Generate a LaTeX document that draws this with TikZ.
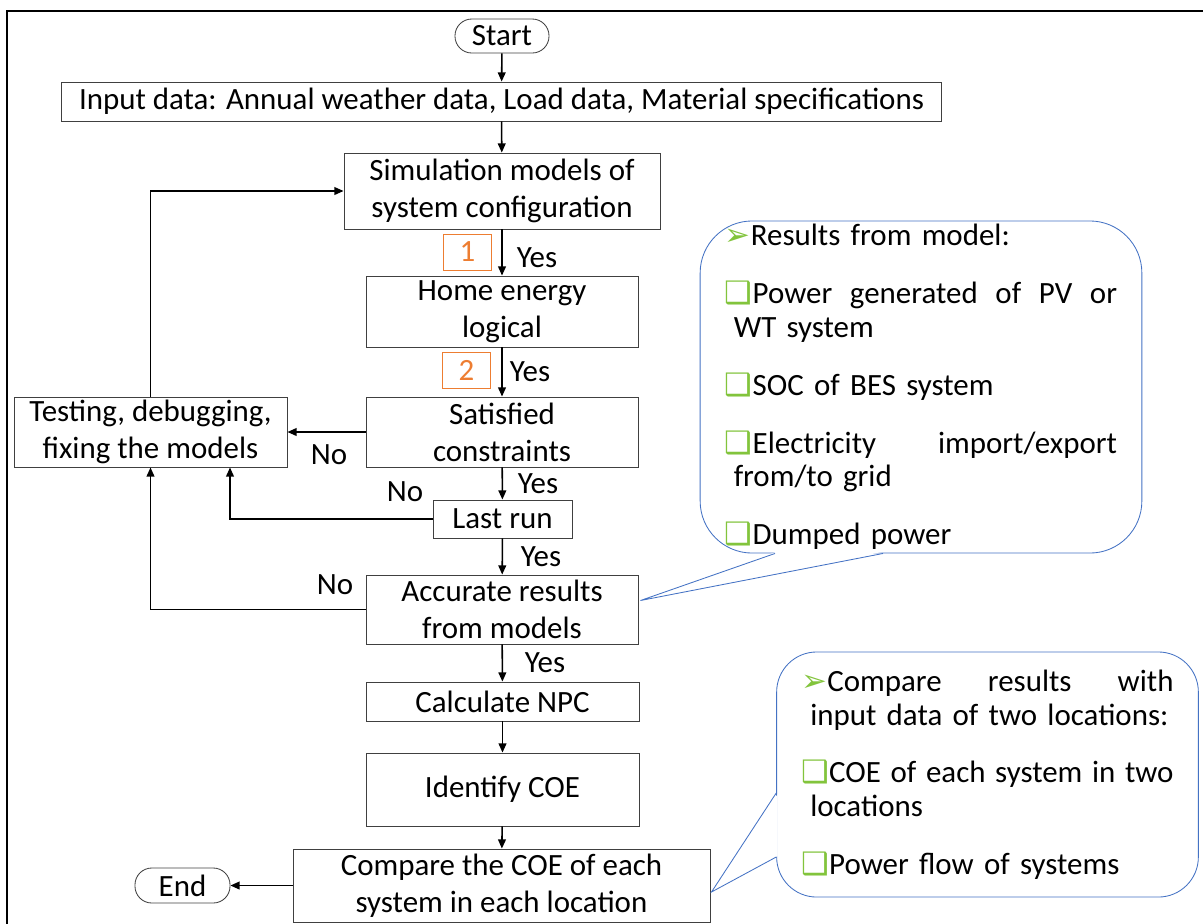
\documentclass[tikz,border=0pt]{standalone}
\usepackage{fontspec}
\setmainfont{Carlito}
\newfontfamily\symfont{DejaVu Sans}
\usepackage{xcolor}
\usetikzlibrary{arrows.meta,calc}
\definecolor{bord}{RGB}{64,64,64}
\definecolor{bleuc}{RGB}{68,114,196}
\definecolor{vertc}{RGB}{130,196,60}
\definecolor{orangec}{RGB}{237,125,49}
\newcommand{\fs}{\fontsize{22}{26.5}\selectfont}
\newcommand{\fsb}{\fontsize{22}{24}\selectfont}
\newcommand{\fle}{{\symfont\color{vertc}\char"27A2}}
\newcommand{\cas}{{\symfont\color{vertc}\char"2751}}
\newcommand{\ind}{\hspace*{0.22cm}}

\begin{document}
\begin{tikzpicture}[x=0.025cm, y=-0.025cm,
  bx/.style 2 args={rectangle, draw=bord, semithick, minimum width=#1, minimum height=#2,
                    align=center, inner sep=1pt, font=\fs},
  pill/.style={rectangle, rounded corners=0.42cm, draw=bord, semithick, font=\fs, inner sep=1pt},
  num/.style={rectangle, draw=orangec, thin, text=orangec, minimum width=1.2cm,
              minimum height=0.9cm, font=\fs},
  lab/.style={font=\fs, inner sep=0pt},
  bulle/.style 2 args={rectangle, draw=bleuc, semithick, fill=white, rounded corners=#2,
                       text width=#1, align=left, inner xsep=0.62cm, inner ysep=0pt, font=\fsb},
  fl/.style={-{Triangle[length=6.5pt, width=5.5pt]}, line width=1.1pt}]

\useasboundingbox (0,0) rectangle (1203,923);
\draw[line width=1.5pt] (1215,11) -- (7,11) -- (7,935);

% -- colonne principale --
\node[pill, minimum width=2.35cm, minimum height=0.85cm] (start) at (502,36) {Start};
\node[bx={21.975cm}{0.975cm}] (input) at (501.5,101.5)
  {Input data: Annual weather data, Load data, Material specifications};
\node[bx={7.9cm}{1.9cm}] (sim) at (502,191) {Simulation models of\\ system configuration};
\node[bx={6.8cm}{1.775cm}] (home) at (502,311.5) {Home energy\\ logical};
\node[bx={6.8cm}{1.75cm}] (sat) at (502,432) {Satisfied\\ constraints};
\node[bx={3.475cm}{0.95cm}] (last) at (502.5,519) {Last run};
\node[bx={6.8cm}{1.725cm}] (acc) at (502,609.5) {Accurate results\\ from models};
\node[bx={6.825cm}{0.975cm}] (npc) at (502.5,701.5) {Calculate NPC};
\node[bx={6.825cm}{1.825cm}] (coe) at (502.5,789.5) {Identify COE};
\node[bx={10.425cm}{1.825cm}] (cmp) at (501.5,885.5) {Compare the COE of each\\ system in each location};
\node[pill, minimum width=2.375cm, minimum height=0.875cm] (end) at (182.5,885.5) {End};
\node[bx={6.825cm}{1.75cm}] (test) at (150.5,432) {Testing, debugging,\\ fixing the models};

% -- reperes 1 et 2 --
\node[num] (one) at (467.5,252) {1};
\node[num] (two) at (466.5,370) {2};

% -- fleches --
\draw[fl] (start) -- (input);
\draw[fl] (input) -- (sim);
\draw[fl] (sim) -- (home);
\draw[fl] (home) -- (sat);
\draw[fl] (sat) -- (last);
\draw[fl] (last) -- (acc);
\draw[fl] (acc) -- (npc);
\draw[fl] (npc) -- (coe);
\draw[fl] (coe) -- (cmp);
\draw[fl] (cmp) -- (end);
\draw[fl] (sat.west) -- (test.east);
\draw[fl] (last.west) -| ($(test.south)+(79.5,0)$);
\draw[fl] (acc.west) -| (test.south);
\draw[fl] (test.north) |- (sim.west);

\node[lab] (y1) at (537,258) {Yes};
\node[lab] (y2) at (530,372) {Yes};
\node[lab] (y3) at (538,484) {Yes};
\node[lab] (y4) at (541,557) {Yes};
\node[lab] (y5) at (545,663) {Yes};
\node[lab] (n1) at (329,455) {No};
\node[lab] (n2) at (405,492) {No};
\node[lab] (n3) at (335,585) {No};

% -- bulles --
\node[bulle={9.8cm}{1.3cm}, minimum height=8.3cm] (res) at (921,387)
  {\fle Results from model:\\[0.6cm]
   \cas Power\hfill generated\hfill of\hfill PV\hfill or\\
   \ind WT system\\[0.6cm]
   \cas SOC of BES system\\[0.6cm]
   \cas Electricity\hfill import/export\\
   \ind from/to grid\\[0.6cm]
   \cas Dumped power};
\fill[white] ($(res.south)+(-145,-1.5)$) -- ($(acc.east)+(2,-9)$) -- ($(res.south)+(-39,-1.5)$) -- cycle;
\draw[bleuc, semithick] ($(res.south)+(-146,0)$) -- ($(acc.east)+(2,-9)$) -- ($(res.south)+(-38,0)$);

\node[bulle={9.3cm}{1cm}, minimum height=6.125cm] (cmpres) at (987.5,774.5)
  {\fle Compare\hfill results\hfill with\\
   \ind\mbox{input data of two locations:}\\[0.6cm]
   \cas COE\hfill of\hfill each\hfill system\hfill in\hfill two\\
   \ind locations\\[0.6cm]
   \cas Power flow of systems};
\fill[white] ($(cmpres.west)+(1.5,19.5)$) -- ($(cmp.east)+(1,6.5)$) -- ($(cmpres.west)+(1.5,81.5)$) -- cycle;
\draw[bleuc, semithick] ($(cmpres.west)+(0,18.5)$) -- ($(cmp.east)+(1,6.5)$) -- ($(cmpres.west)+(0,82.5)$);

\end{tikzpicture}
\end{document}
